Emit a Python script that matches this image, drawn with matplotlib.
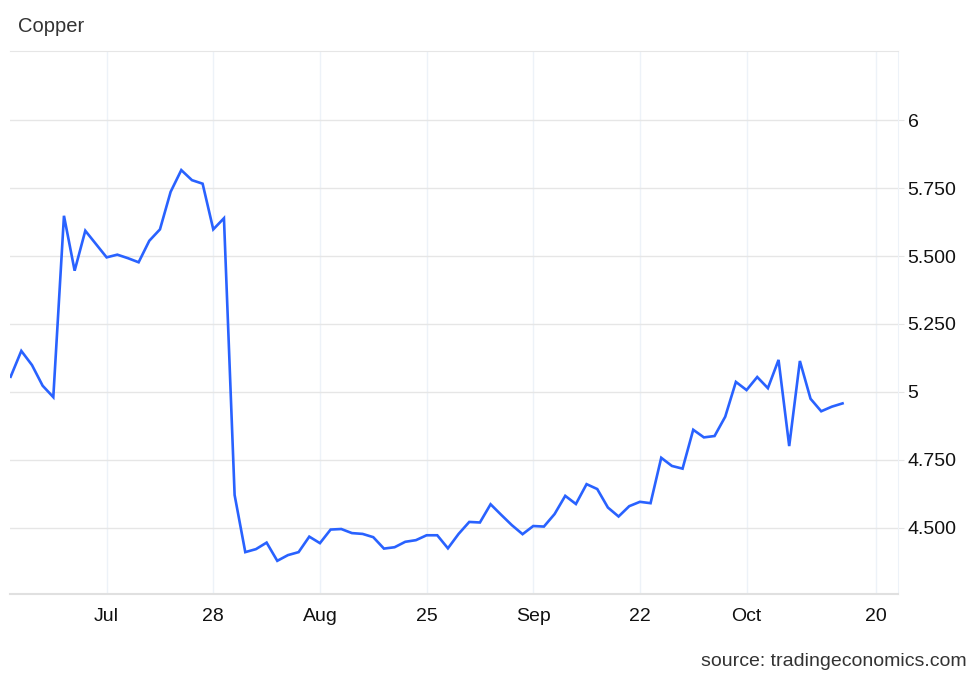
import matplotlib
matplotlib.use("Agg")
import matplotlib.pyplot as plt

plt.rcParams['font.family'] = ['Liberation Sans', 'DejaVu Sans']

# daily copper price (USD/lb), one value per trading day
price = [5.056, 5.151, 5.099, 5.023, 4.981, 5.648, 5.446, 5.593, 5.544, 5.495,
         5.505, 5.492, 5.477, 5.556, 5.598, 5.736, 5.816, 5.779, 5.766, 5.598,
         5.639, 4.621, 4.411, 4.422, 4.446, 4.379, 4.400, 4.411, 4.468, 4.444,
         4.494, 4.496, 4.481, 4.478, 4.466, 4.424, 4.429, 4.449, 4.455, 4.473,
         4.473, 4.425, 4.478, 4.522, 4.520, 4.587, 4.548, 4.510, 4.477, 4.507,
         4.505, 4.551, 4.618, 4.588, 4.661, 4.643, 4.575, 4.542, 4.580, 4.596,
         4.591, 4.758, 4.728, 4.718, 4.861, 4.833, 4.838, 4.909, 5.037, 5.007,
         5.055, 5.014, 5.118, 4.801, 5.114, 4.975, 4.929, 4.946, 4.958]

xtick_pos = [9, 19, 29, 39, 49, 59, 69, 81.1]
xtick_labels = ['Jul', '28', 'Aug', '25', 'Sep', '22', 'Oct', '20']
ytick_vals = [4.5, 4.75, 5.0, 5.25, 5.5, 5.75, 6.0]
ytick_labels = ['4.500', '4.750', '5', '5.250', '5.500', '5.750', '6']

fig = plt.figure(figsize=(9.8, 6.79), dpi=100)
ax = fig.add_axes([10 / 980, 85 / 679, 888 / 980, 543 / 679])

ax.plot(range(len(price)), price, color='#2962ff', lw=1.9, solid_joinstyle='miter')

ax.set_xlim(-0.06, 83.2)
ax.set_ylim(4.257, 6.254)

ax.set_xticks(xtick_pos)
ax.set_xticklabels(xtick_labels, fontsize=14, color='#111111')
ax.set_yticks(ytick_vals)
ax.set_yticklabels(ytick_labels, fontsize=14, color='#111111')
ax.yaxis.tick_right()
ax.tick_params(axis='x', length=0, pad=10)
ax.tick_params(axis='y', length=4, color='#e6e6e6', pad=3)

ax.grid(axis='y', color='#e6e6e6', lw=1)
ax.grid(axis='x', color='#edf2f8', lw=1)
ax.set_axisbelow(True)

ax.spines['left'].set_visible(False)
ax.spines['top'].set_color('#e6e6e6')
ax.spines['right'].set_color('#edf2f8')
ax.spines['bottom'].set_color('#e0e0e0')
ax.spines['bottom'].set_linewidth(1.5)

fig.text(18 / 980, 1 - 26 / 679, 'Copper', fontsize=14.5, color='#333333', va='center', ha='left')
fig.text(967 / 980, 1 - 662 / 679, 'source: tradingeconomics.com', fontsize=14,
         color='#333333', va='center', ha='right')

fig.savefig('out.png', dpi=100)
